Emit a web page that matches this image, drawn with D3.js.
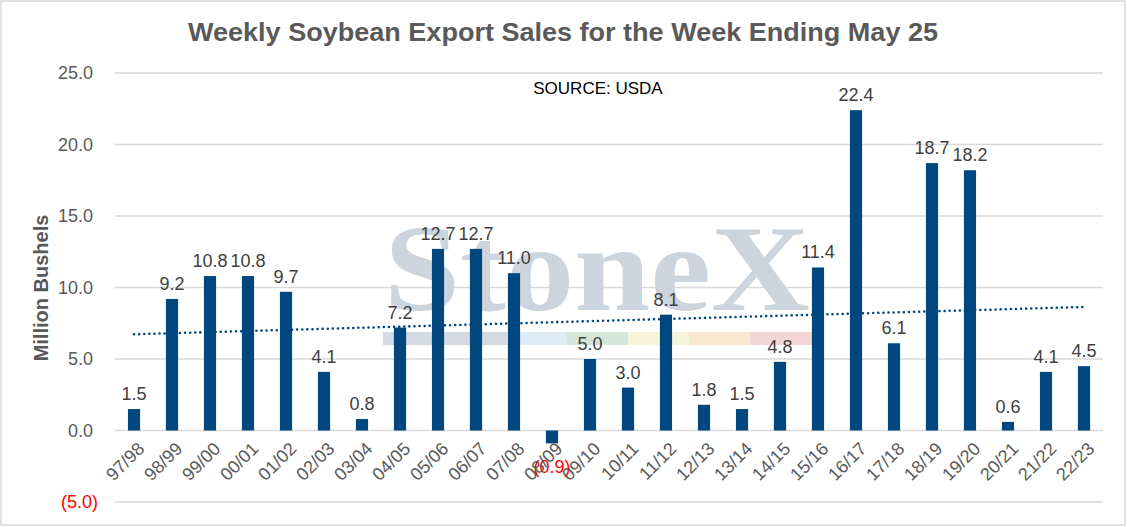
<!DOCTYPE html>
<html>
<head>
<meta charset="utf-8">
<script src="https://cdn.jsdelivr.net/npm/d3@7"></script>
<style>
  body { margin: 0; background: #fff; }
  text { font-family: "Liberation Sans", Arial, sans-serif; }
</style>
</head>
<body>
<div id="chart"></div>
<script>
// marketing years
const years = ["97/98","98/99","99/00","00/01","01/02","02/03","03/04","04/05","05/06","06/07",
  "07/08","08/09","09/10","10/11","11/12","12/13","13/14","14/15","15/16","16/17",
  "17/18","18/19","19/20","20/21","21/22","22/23"];
// weekly sales, million bushels
const sales = [1.5, 9.2, 10.8, 10.8, 9.7, 4.1, 0.8, 7.2, 12.7, 12.7,
  11.0, -0.9, 5.0, 3.0, 8.1, 1.8, 1.5, 4.8, 11.4, 22.4,
  6.1, 18.7, 18.2, 0.6, 4.1, 4.5];
const yTicks = [-5, 0, 5, 10, 15, 20, 25];

const W = 1127, H = 527;
const margin = { top: 73, right: 24, bottom: 25, left: 115 };

const svg = d3.select("#chart").append("svg")
    .attr("width", W)
    .attr("height", H);

// outer border
svg.append("rect")
    .attr("x", 1).attr("y", 1)
    .attr("width", W - 3).attr("height", H - 3)
    .attr("fill", "#fff")
    .attr("stroke", "#d9d9d9")
    .attr("stroke-width", 1.5);

const x = d3.scaleBand()
    .domain(years)
    .range([margin.left, W - margin.right])
    .paddingInner(0.68)
    .paddingOuter(0.34);

const y = d3.scaleLinear()
    .domain([-5, 25])
    .range([H - margin.bottom, margin.top]);

const fmt = v => v < 0 ? "(" + d3.format(".1f")(-v) + ")" : d3.format(".1f")(v);

// gridlines
svg.append("g")
    .selectAll("line")
    .data(yTicks)
    .enter()
    .append("line")
    .attr("x1", margin.left)
    .attr("x2", W - margin.right)
    .attr("y1", d => y(d))
    .attr("y2", d => y(d))
    .attr("stroke", "#d9d9d9")
    .attr("stroke-width", 1.5);

// y tick labels
svg.append("g")
    .selectAll("text")
    .data(yTicks)
    .enter()
    .append("text")
    .attr("x", d => d < 0 ? 98 : 93)
    .attr("y", d => y(d))
    .attr("dy", "0.35em")
    .attr("text-anchor", "end")
    .attr("font-size", "18px")
    .attr("fill", d => d < 0 ? "#ff0000" : "#595959")
    .text(fmt);

// watermark
const wm = svg.append("g").attr("class", "watermark");
wm.append("text")
    .attr("x", 384)
    .attr("y", 310)
    .attr("font-size", "122px")
    .attr("font-weight", "bold")
    .attr("textLength", 426)
    .attr("lengthAdjust", "spacingAndGlyphs")
    .style("font-family", "'Liberation Serif', 'Times New Roman', serif")
    .attr("fill", "#ccd4dd")
    .text("StoneX");

const stripe = [
  { x0: 383, x1: 507, c: "#d3dae2" },
  { x0: 507, x1: 567, c: "#deebf4" },
  { x0: 567, x1: 628, c: "#d5e6d9" },
  { x0: 628, x1: 689, c: "#f7f5d9" },
  { x0: 689, x1: 750, c: "#f9e8cf" },
  { x0: 750, x1: 812, c: "#f2d5d5" }
];
wm.selectAll("rect")
    .data(stripe)
    .enter()
    .append("rect")
    .attr("x", d => d.x0)
    .attr("y", 332)
    .attr("width", d => d.x1 - d.x0)
    .attr("height", 13)
    .attr("fill", d => d.c);

// bars
svg.append("g")
    .selectAll("rect")
    .data(sales)
    .enter()
    .append("rect")
    .attr("x", (d, i) => x(years[i]))
    .attr("width", x.bandwidth())
    .attr("y", d => y(Math.max(0, d)))
    .attr("height", d => Math.abs(y(d) - y(0)))
    .attr("fill", "#00467f");

// linear trendline (least squares, like Excel)
const n = sales.length;
const xs = d3.range(1, n + 1);
const mx = d3.mean(xs), my = d3.mean(sales);
const slope = d3.sum(xs, (v, i) => (v - mx) * (sales[i] - my)) / d3.sum(xs, v => (v - mx) * (v - mx));
const icpt = my - slope * mx;
const cx = i => x(years[i]) + x.bandwidth() / 2;

svg.append("line")
    .attr("x1", cx(0))
    .attr("x2", cx(n - 1))
    .attr("y1", y(icpt + slope * 1))
    .attr("y2", y(icpt + slope * n))
    .attr("stroke", "#00467f")
    .attr("stroke-width", 2.5)
    .attr("stroke-linecap", "round")
    .attr("stroke-dasharray", "0.1,5");

// data labels
svg.append("g")
    .selectAll("text")
    .data(sales)
    .enter()
    .append("text")
    .attr("x", (d, i) => cx(i))
    .attr("y", d => d < 0 ? y(d) + 30 : y(d) - 9)
    .attr("text-anchor", "middle")
    .attr("font-size", "18px")
    .attr("fill", d => d < 0 ? "#ff0000" : "#404040")
    .text(fmt);

// x labels
svg.append("g")
    .selectAll("text")
    .data(years)
    .enter()
    .append("text")
    .attr("transform", d => `translate(${x(d) + x.bandwidth() / 2 + 7},${y(0) + 15}) rotate(-45)`)
    .attr("text-anchor", "end")
    .attr("dy", "0.35em")
    .attr("font-size", "18px")
    .attr("fill", "#595959")
    .text(d => d);

// title
svg.append("text")
    .attr("x", 563)
    .attr("y", 41)
    .attr("text-anchor", "middle")
    .attr("font-size", "25px")
    .attr("font-weight", "bold")
    .attr("textLength", 750)
    .attr("lengthAdjust", "spacingAndGlyphs")
    .attr("fill", "#595959")
    .text("Weekly Soybean Export Sales for the Week Ending May 25");

svg.append("text")
    .attr("x", 598)
    .attr("y", 94)
    .attr("text-anchor", "middle")
    .attr("font-size", "17px")
    .attr("fill", "#000")
    .text("SOURCE: USDA");

// y axis title
svg.append("text")
    .attr("transform", "translate(48,288) rotate(-90)")
    .attr("text-anchor", "middle")
    .attr("font-size", "20px")
    .attr("font-weight", "bold")
    .attr("fill", "#595959")
    .text("Million Bushels");
</script>
</body>
</html>
